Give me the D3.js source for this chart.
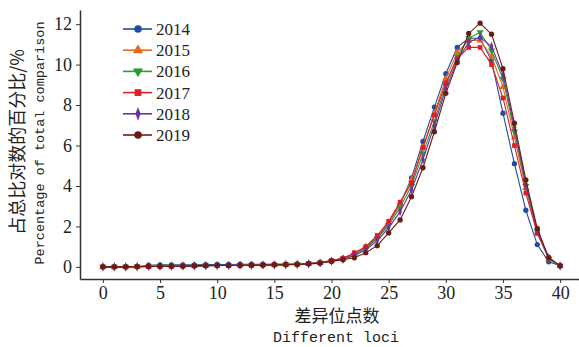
<!DOCTYPE html>
<html>
<head>
<meta charset="utf-8">
<script src="https://cdn.jsdelivr.net/npm/d3@7"></script>
<style>
  body { margin: 0; background: #fff; }
  .tick text { font-family: "Liberation Serif", serif; font-size: 18px; fill: #222; }
  .domain { stroke: #333; stroke-width: 1.5; }
  .tick line { stroke: #333; }
</style>
</head>
<body>
<script>
var loci = [0,1,2,3,4,5,6,7,8,9,10,11,12,13,14,15,16,17,18,19,20,
            21,22,23,24,25,26,27,28,29,30,31,32,33,34,35,36,37,38,39,40];
var years = ["2014", "2015", "2016", "2017", "2018", "2019"];

var s2014 = [0,0,0,0.02,0.08,0.1,0.1,0.1,0.1,0.11,0.12,0.12,0.13,0.13,0.13,0.14,0.14,0.15,0.17,0.21,
             0.3,0.42,0.65,0.95,1.45,2.15,3.1,4.4,6.2,7.9,9.55,10.85,11.3,11.3,10.2,7.6,5.1,2.8,1.1,0.25,0.05];
var s2015 = [0,0,0,0.01,0.02,0.03,0.03,0.04,0.05,0.06,0.07,0.07,0.08,0.08,0.09,0.1,0.11,0.13,0.16,0.2,
             0.3,0.42,0.65,1.0,1.5,2.2,3.1,4.3,5.9,7.6,9.3,10.6,11.2,11.2,10.4,8.9,6.4,3.9,1.7,0.4,0.05];
var s2016 = [0,0,0,0.01,0.02,0.03,0.03,0.04,0.05,0.06,0.07,0.07,0.08,0.08,0.09,0.1,0.11,0.13,0.16,0.2,
             0.29,0.4,0.6,0.9,1.4,2.05,2.95,4.0,5.6,7.2,9.0,10.4,11.3,11.6,10.7,9.3,6.7,4.0,1.75,0.4,0.05];
var s2017 = [0,0,0,0.01,0.02,0.03,0.03,0.04,0.05,0.06,0.07,0.07,0.08,0.08,0.09,0.1,0.11,0.13,0.16,0.21,
             0.32,0.42,0.7,1.0,1.55,2.25,3.2,4.15,5.9,7.5,9.1,10.3,10.85,10.85,10.0,8.35,6.0,3.65,1.65,0.45,0.05];
var s2018 = [0,0,0,0.01,0.02,0.03,0.03,0.04,0.05,0.06,0.07,0.07,0.08,0.08,0.09,0.1,0.11,0.12,0.15,0.19,
             0.28,0.38,0.55,0.85,1.3,1.93,2.73,3.8,5.3,7.0,8.8,10.2,11.1,11.35,10.9,9.5,6.9,4.1,1.8,0.45,0.05];
var s2019 = [0,0,0,0.01,0.02,0.03,0.03,0.04,0.05,0.06,0.07,0.07,0.08,0.08,0.09,0.1,0.11,0.12,0.15,0.18,
             0.27,0.35,0.45,0.7,1.05,1.68,2.32,3.47,4.9,6.68,8.58,10.1,11.54,12.05,11.5,9.8,7.1,4.3,1.9,0.45,0.05];

var yTicks = [0, 2, 4, 6, 8, 10, 12];
var xTicks = [0, 5, 10, 15, 20, 25, 30, 35, 40];

var seriesValues = [s2014, s2015, s2016, s2017, s2018, s2019];
var colors = ["#1f4e9c", "#e8681e", "#2b9a34", "#dc1f26", "#6e2fa0", "#6a1c14"];
var shapes = [d3.symbolCircle, d3.symbolTriangle, "tridown", d3.symbolSquare, "diamond", d3.symbolCircle];

var width = 579, height = 347;

var x = d3.scaleLinear().domain([-2, 42]).range([80, 583]);
var y = d3.scaleLinear().domain([-0.6, 12.7]).range([279, 10]);

var svg = d3.select("body").append("svg")
    .attr("width", width)
    .attr("height", height);

function drawMarker(g, shape, color, size) {
  if (shape === "tridown") {
    g.append("path")
        .attr("d", d3.symbol().type(d3.symbolTriangle).size(size)())
        .attr("transform", "rotate(180)")
        .attr("fill", color);
  } else if (shape === "diamond") {
    g.append("path")
        .attr("d", d3.symbol().type(d3.symbolDiamond).size(size)())
        .attr("transform", "scale(0.7,1.1)")
        .attr("fill", color);
  } else {
    g.append("path")
        .attr("d", d3.symbol().type(shape).size(size)())
        .attr("fill", color);
  }
}

var line = d3.line()
    .x(function(d, i) { return x(loci[i]); })
    .y(function(d) { return y(d); });

seriesValues.forEach(function(vals, k) {
  var g = svg.append("g").attr("class", "series");
  g.append("path")
      .datum(vals)
      .attr("d", line)
      .attr("fill", "none")
      .attr("stroke", colors[k])
      .attr("stroke-width", 1.1);
  vals.forEach(function(v, i) {
    var m = g.append("g")
        .attr("transform", "translate(" + x(loci[i]) + "," + y(v) + ")");
    drawMarker(m, shapes[k], colors[k], 22);
  });
});

// axes
svg.append("g")
    .attr("transform", "translate(0,279)")
    .call(d3.axisBottom(x).tickValues(xTicks).tickSize(4).tickPadding(3).tickSizeOuter(0));

svg.append("g")
    .attr("transform", "translate(80,0)")
    .call(d3.axisLeft(y).tickValues(yTicks).tickSize(4).tickPadding(4).tickSizeOuter(0));

// legend
var legend = svg.append("g").attr("class", "legend");
years.forEach(function(yr, k) {
  var ly = 29 + k * 21.2;
  legend.append("line")
      .attr("x1", 123).attr("x2", 152)
      .attr("y1", ly).attr("y2", ly)
      .attr("stroke", colors[k])
      .attr("stroke-width", 1.6);
  var m = legend.append("g").attr("transform", "translate(138," + ly + ")");
  drawMarker(m, shapes[k], colors[k], 45);
  legend.append("text")
      .attr("x", 156).attr("y", ly)
      .attr("dy", "0.35em")
      .style("font-family", "Liberation Serif, serif")
      .style("font-size", "17px")
      .style("fill", "#222")
      .text(yr);
});

// axis labels
svg.append("text")
    .attr("x", 337).attr("y", 322)
    .style("text-anchor", "middle")
    .style("font-family", "Noto Sans CJK SC")
    .style("font-size", "17px")
    .style("fill", "#222")
    .text("差异位点数");

svg.append("text")
    .attr("x", 336).attr("y", 342)
    .style("text-anchor", "middle")
    .style("font-family", "Liberation Mono, monospace")
    .style("font-size", "15px")
    .style("fill", "#222")
    .text("Different loci");

svg.append("text")
    .attr("transform", "translate(24,142) rotate(-90)")
    .style("text-anchor", "middle")
    .style("font-family", "Noto Sans CJK SC")
    .style("font-size", "18px")
    .style("fill", "#222")
    .text("占总比对数的百分比/%");

svg.append("text")
    .attr("transform", "translate(44,143) rotate(-90)")
    .style("text-anchor", "middle")
    .style("font-family", "Liberation Mono, monospace")
    .style("font-size", "13.5px")
    .style("fill", "#222")
    .text("Percentage of total comparison");
</script>
</body>
</html>
